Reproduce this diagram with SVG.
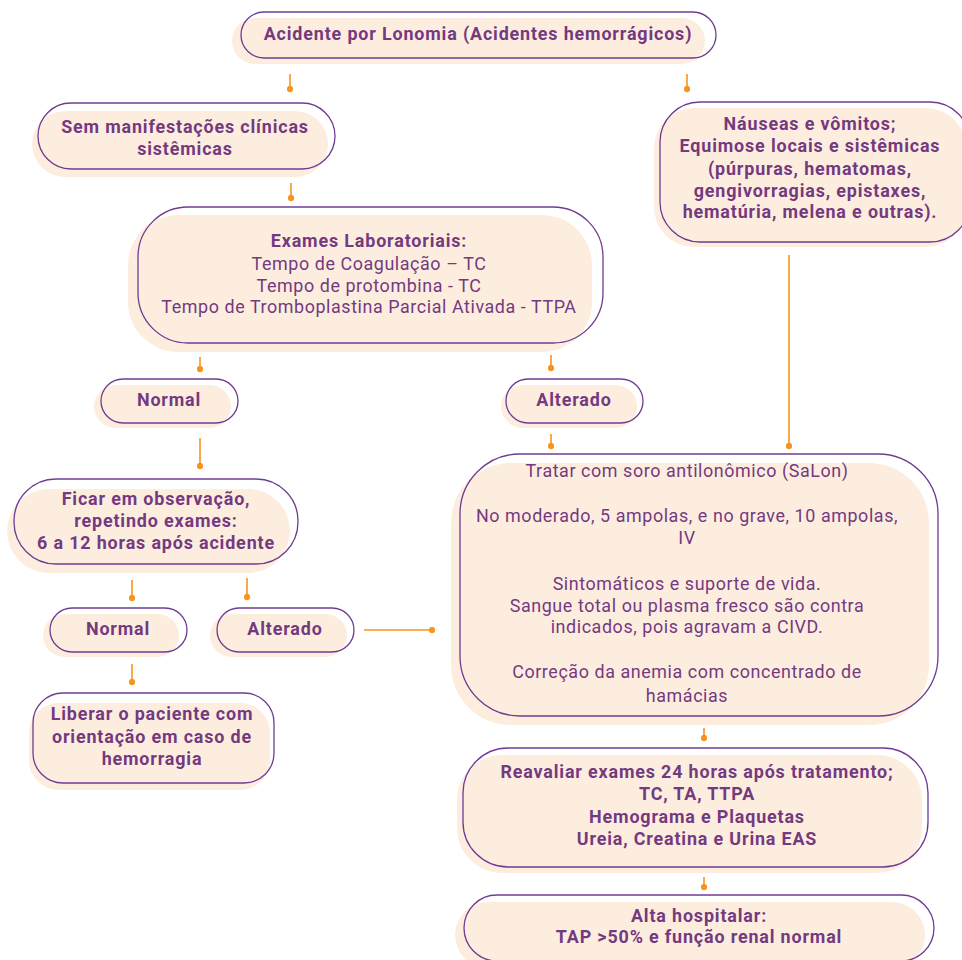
<svg xmlns="http://www.w3.org/2000/svg" width="962" height="960" viewBox="0 0 962 960">
<defs>
<marker id="dot" viewBox="0 0 8 8" refX="4" refY="4" markerWidth="7" markerHeight="7" markerUnits="userSpaceOnUse">
<circle cx="4" cy="4" r="3.6" fill="#f7941d"/>
</marker>
<style>
.bg{fill:#fdeddf;stroke:none}
.ol{fill:none;stroke:#6f3c91;stroke-width:1.3}
text{font-family:Roboto,"Open Sans",sans-serif;font-size:17.9px;letter-spacing:0.58px;fill:#733a7f;text-anchor:middle}
.b{font-weight:bold;letter-spacing:0.85px}
.c{fill:none;stroke:#f7941d;stroke-width:1.6;marker-end:url(#dot)}
</style>
</defs>
<rect width="962" height="960" fill="#ffffff"/>

<g id="connectors">
<line class="c" x1="290" y1="74" x2="290" y2="89"/>
<line class="c" x1="687" y1="74" x2="687" y2="89"/>
<line class="c" x1="291" y1="183" x2="291" y2="198"/>
<line class="c" x1="200" y1="357" x2="200" y2="369"/>
<line class="c" x1="551" y1="355" x2="551" y2="368"/>
<line class="c" x1="200" y1="438" x2="200" y2="466"/>
<line class="c" x1="551" y1="434" x2="551" y2="446"/>
<line class="c" x1="789" y1="255" x2="789" y2="446"/>
<line class="c" x1="132" y1="580" x2="132" y2="598"/>
<line class="c" x1="247" y1="578" x2="247" y2="597"/>
<line class="c" x1="364" y1="630" x2="432" y2="630"/>
<line class="c" x1="132" y1="664" x2="132" y2="682"/>
<line class="c" x1="704" y1="728" x2="704" y2="738"/>
<line class="c" x1="704" y1="877" x2="704" y2="887"/>
</g>

<g id="n-acidente">
<rect class="bg" x="232" y="18" width="473" height="46" rx="23"/>
<rect class="ol" x="241" y="12" width="475" height="46" rx="23"/>
<text class="b" x="478" y="40">Acidente por Lonomia (Acidentes hemorrágicos)</text>
</g>

<g id="n-sem">
<rect class="bg" x="32" y="111" width="296" height="66" rx="33"/>
<rect class="ol" x="38" y="103" width="297" height="66" rx="33"/>
<text class="b" x="185" y="133">Sem manifestações clínicas</text>
<text class="b" x="185" y="155">sistêmicas</text>
</g>

<g id="n-exames">
<rect class="bg" x="128" y="215" width="464" height="137" rx="50"/>
<rect class="ol" x="138" y="207" width="465" height="136" rx="50"/>
<text class="b" x="369" y="247">Exames Laboratoriais:</text>
<text x="369" y="270">Tempo de Coagulação – TC</text>
<text x="369" y="292">Tempo de protombina - TC</text>
<text x="369" y="313">Tempo de Tromboplastina Parcial Ativada - TTPA</text>
</g>

<g id="n-normal1">
<rect class="bg" x="94" y="385" width="137" height="43" rx="21.5"/>
<rect class="ol" x="101" y="379" width="137" height="44" rx="22"/>
<text class="b" x="169" y="406">Normal</text>
</g>

<g id="n-alterado1">
<rect class="bg" x="501" y="385" width="136" height="43" rx="21.5"/>
<rect class="ol" x="506" y="379" width="137" height="44" rx="22"/>
<text class="b" x="574" y="406">Alterado</text>
</g>

<g id="n-nauseas">
<rect class="bg" x="654" y="108" width="312" height="139" rx="40"/>
<rect class="ol" x="660" y="102" width="310" height="140" rx="40"/>
<text class="b" x="810" y="130">Náuseas e vômitos;</text>
<text class="b" x="810" y="152">Equimose locais e sistêmicas</text>
<text class="b" x="810" y="175">(púrpuras, hematomas,</text>
<text class="b" x="810" y="197">gengivorragias, epistaxes,</text>
<text class="b" x="810" y="218">hematúria, melena e outras).</text>
</g>

<g id="n-ficar">
<rect class="bg" x="7" y="489" width="283" height="84" rx="42"/>
<rect class="ol" x="14" y="479" width="284" height="85" rx="42"/>
<text class="b" x="156" y="505">Ficar em observação,</text>
<text class="b" x="156" y="527">repetindo exames:</text>
<text class="b" x="156" y="549">6 a 12 horas após acidente</text>
</g>

<g id="n-normal2">
<rect class="bg" x="43" y="614" width="136" height="43" rx="21.5"/>
<rect class="ol" x="50" y="608" width="137" height="44" rx="22"/>
<text class="b" x="118" y="635">Normal</text>
</g>

<g id="n-alterado2">
<rect class="bg" x="210" y="614" width="137" height="43" rx="21.5"/>
<rect class="ol" x="217" y="608" width="137" height="44" rx="22"/>
<text class="b" x="285" y="635">Alterado</text>
</g>

<g id="n-liberar">
<rect class="bg" x="29" y="703" width="241" height="87" rx="30"/>
<rect class="ol" x="33" y="693" width="241" height="90" rx="30"/>
<text class="b" x="152" y="720">Liberar o paciente com</text>
<text class="b" x="152" y="743">orientação em caso de</text>
<text class="b" x="152" y="765">hemorragia</text>
</g>

<g id="n-tratar">
<rect class="bg" x="451" y="463" width="478" height="262" rx="60"/>
<rect class="ol" x="460" y="454" width="478" height="262" rx="60"/>
<text x="687" y="477">Tratar com soro antilonômico (SaLon)</text>
<text x="687" y="522">No moderado, 5 ampolas, e no grave, 10 ampolas,</text>
<text x="687" y="544">IV</text>
<text x="687" y="590">Sintomáticos e suporte de vida.</text>
<text x="687" y="612">Sangue total ou plasma fresco são contra</text>
<text x="687" y="633">indicados, pois agravam a CIVD.</text>
<text x="687" y="678">Correção da anemia com concentrado de</text>
<text x="687" y="702">hamácias</text>
</g>

<g id="n-reavaliar">
<rect class="bg" x="457" y="755" width="465" height="118" rx="45"/>
<rect class="ol" x="463" y="748" width="465" height="119" rx="45"/>
<text class="b" x="697" y="778">Reavaliar exames 24 horas após tratamento;</text>
<text class="b" x="697" y="800">TC, TA, TTPA</text>
<text class="b" x="697" y="823">Hemograma e Plaquetas</text>
<text class="b" x="697" y="845">Ureia, Creatina e Urina EAS</text>
</g>

<g id="n-alta">
<rect class="bg" x="455" y="902" width="470" height="66" rx="33"/>
<rect class="ol" x="464" y="895" width="470" height="66" rx="33"/>
<text class="b" x="699" y="922">Alta hospitalar:</text>
<text class="b" x="699" y="943">TAP &gt;50% e função renal normal</text>
</g>
</svg>
